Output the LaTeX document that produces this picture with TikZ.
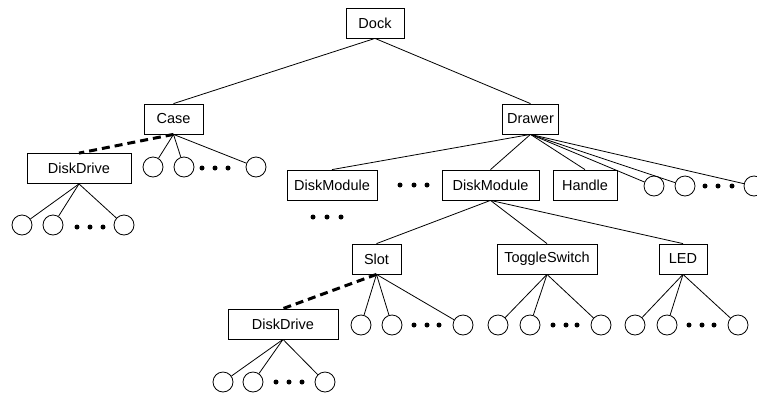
\documentclass[tikz,border=0pt]{standalone}
\usepackage{fontspec}
\setmainfont{Liberation Sans}
\begin{document}
\begin{tikzpicture}[x=1pt,y=-1pt,
  box/.style={draw,line width=0.8pt,minimum height=30pt,inner sep=0pt,font=\fontsize{14.5}{17}\selectfont},
  leaf/.style={draw,circle,line width=0.8pt,minimum size=20pt,inner sep=0pt},
  edge/.style={line width=0.8pt},
  link/.style={line width=3pt,dash pattern=on 8pt off 5pt},
  dot/.style={fill,circle,inner sep=0pt,minimum size=5pt}]
\useasboundingbox (0,0) rectangle (757,394);

% level 0 and 1
\node[box,minimum width=58pt] (dock) at (375,23) {Dock};
\node[box,minimum width=59pt] (case) at (173.5,119) {Case};
\node[box,minimum width=56pt] (drawer) at (530.5,119) {Drawer};
\draw[edge] (dock.south) -- (case.north);
\draw[edge] (dock.south) -- (drawer.north);

% Case subtree
\node[box,minimum width=104pt] (dd1) at (79,168.5) {DiskDrive};
\draw[link] (case.south) -- (dd1.north);
\node[leaf] (c1) at (153,167) {};
\node[leaf] (c2) at (184,167) {};
\node[dot] (cd1) at (202,168) {};
\node[dot] (cd2) at (215,168) {};
\node[dot] (cd3) at (228,168) {};
\node[leaf] (c3) at (256,167) {};
\foreach \n in {c1,c2,c3} \draw[edge] (case.south) -- (\n);

\node[leaf] (d1) at (22,225) {};
\node[leaf] (d2) at (53,225) {};
\node[dot] (dd1a) at (77,227) {};
\node[dot] (dd1b) at (90,227) {};
\node[dot] (dd1c) at (103,227) {};
\node[leaf] (d3) at (124,225) {};
\foreach \n in {d1,d2,d3} \draw[edge] (dd1.south) -- (\n);

% Drawer subtree
\node[box,minimum width=90pt] (dm1) at (332,185) {DiskModule};
\node[dot] (md1) at (400,185) {};
\node[dot] (md2) at (414,185) {};
\node[dot] (md3) at (427,185) {};
\node[box,minimum width=97pt] (dm2) at (490.5,185) {DiskModule};
\node[box,minimum width=64pt] (handle) at (585,185) {Handle};
\node[leaf] (w1) at (654,186) {};
\node[leaf] (w2) at (685,186) {};
\node[dot] (wd1) at (705,186) {};
\node[dot] (wd2) at (718,186) {};
\node[dot] (wd3) at (732,186) {};
\node[leaf] (w3) at (754,186) {};
\foreach \n in {dm1,dm2,handle} \draw[edge] (drawer.south) -- (\n.north);
\foreach \n in {w1,w2,w3} \draw[edge] (drawer.south) -- (\n);

\node[dot] (xd1) at (313,217) {};
\node[dot] (xd2) at (327,217) {};
\node[dot] (xd3) at (341,217) {};

% DiskModule subtree
\node[box,minimum width=49pt] (slot) at (376.5,259) {Slot};
\node[box,minimum width=100pt] (toggle) at (547,259) {ToggleSwitch};
\node[box,minimum width=48pt] (led) at (683,259) {LED};
\foreach \n in {slot,toggle,led} \draw[edge] (dm2.south) -- (\n.north);

% Slot subtree
\node[box,minimum width=110pt] (dd2) at (283,324) {DiskDrive};
\draw[link] (slot.south) -- (dd2.north);
\node[leaf] (s1) at (361,325) {};
\node[leaf] (s2) at (392,325) {};
\node[dot] (sd1) at (414,325) {};
\node[dot] (sd2) at (427,325) {};
\node[dot] (sd3) at (439,325) {};
\node[leaf] (s3) at (463,325) {};
\foreach \n in {s1,s2,s3} \draw[edge] (slot.south) -- (\n);

% ToggleSwitch subtree
\node[leaf] (t1) at (498,325) {};
\node[leaf] (t2) at (530,325) {};
\node[dot] (td1) at (553,325) {};
\node[dot] (td2) at (566,325) {};
\node[dot] (td3) at (577,325) {};
\node[leaf] (t3) at (601,325) {};
\foreach \n in {t1,t2,t3} \draw[edge] (toggle.south) -- (\n);

% LED subtree
\node[leaf] (l1) at (635,325) {};
\node[leaf] (l2) at (667,325) {};
\node[dot] (ld1) at (689,325) {};
\node[dot] (ld2) at (702,325) {};
\node[dot] (ld3) at (714,325) {};
\node[leaf] (l3) at (738,325) {};
\foreach \n in {l1,l2,l3} \draw[edge] (led.south) -- (\n);

% lower DiskDrive subtree
\node[leaf] (e1) at (223,382) {};
\node[leaf] (e2) at (253,382) {};
\node[dot] (ed1) at (276,382) {};
\node[dot] (ed2) at (289,382) {};
\node[dot] (ed3) at (302,382) {};
\node[leaf] (e3) at (325,382) {};
\foreach \n in {e1,e2,e3} \draw[edge] (dd2.south) -- (\n);
\end{tikzpicture}
\end{document}
